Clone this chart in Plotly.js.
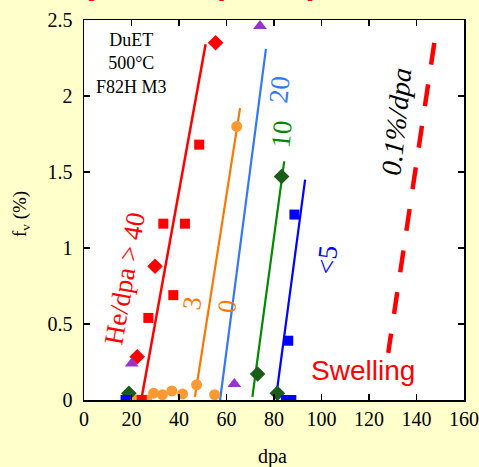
<!DOCTYPE html>
<html>
<head>
<meta charset="utf-8">
<script src="https://cdn.plot.ly/plotly-3.0.1.min.js"></script>
<style>html,body{margin:0;padding:0;background:#FFFFCC;}</style>
</head>
<body>
<div id="chart" style="width:479px;height:467px;"></div>
<script>
// x-axis ticks
const xTicks = [0, 20, 40, 60, 80, 100, 120, 140, 160];
const yTicks = [0, 0.5, 1, 1.5, 2, 2.5];

// He/dpa > 40 (red)
const redSqX = [24.3, 27.1, 33.4, 37.6, 42.5, 48.5];
const redSqY = [0, 0.54, 1.16, 0.69, 1.16, 1.68];
const redDiaX = [22.4, 29.9, 55.4];
const redDiaY = [0.285, 0.88, 2.35];
const redLineX = [24.1, 51.2];
const redLineY = [0, 2.34];

// He/dpa 3 (orange)
const orgX = [22.2, 26.4, 29.3, 33.0, 37.0, 41.5, 47.4, 55.0, 64.3];
const orgY = [0, 0, 0.045, 0.035, 0.06, 0.04, 0.10, 0.035, 1.80];
const orgLineX = [46.7, 65.7];
const orgLineY = [0.02, 1.92];

// He/dpa 20 (light blue)
const lbLineX = [57.3, 76.6];
const lbLineY = [0, 2.31];

// purple triangles
const purX = [20.1, 63.3, 74.1];
const purY = [0.24, 0.105, 2.46];

// He/dpa 10 (green)
const grnX = [18.9, 73.1, 81.4, 83.2];
const grnY = [0.044, 0.171, 0.044, 1.47];
const grnLineX = [70.9, 84.3];
const grnLineY = [0.02, 1.57];

// He/dpa < 5 (blue)
const bluX = [17.5, 85.0, 87.3, 86.0, 88.6];
const bluY = [0, 0, 0, 0.39, 1.22];
const bluLineX = [80.8, 93.1];
const bluLineY = [0.01, 1.45];

// 0.1%/dpa swelling line
const swX = [147.5, 128.1];
const swY = [2.35, 0.31];

const RED = '#FF0000', ORG = '#FF7700', ORGM = '#FF9933', LB = '#3377FF',
      GRN = '#008800', GRND = '#1A5C1A', BLU = '#0000FF', PUR = '#9933CC';

function line(x, y, color, w, dash) {
  return {x: x, y: y, type: 'scatter', mode: 'lines',
          line: {color: color, width: w, dash: dash || 'solid'}, hoverinfo: 'skip'};
}
function mk(x, y, color, sym, size) {
  return {x: x, y: y, type: 'scatter', mode: 'markers', cliponaxis: true,
          marker: {color: color, symbol: sym, size: size, line: {width: 0}}, hoverinfo: 'skip'};
}

const data = [
  line(redLineX, redLineY, RED, 2.5),
  line(orgLineX, orgLineY, ORG, 2.2),
  line(lbLineX, lbLineY, LB, 2.2),
  line(grnLineX, grnLineY, GRN, 2.2),
  line(bluLineX, bluLineY, BLU, 2.2),
  line(swX, swY, RED, 4.5, '22px,20px'),
  mk(orgX, orgY, ORGM, 'circle', 11),
  mk(redSqX, redSqY, RED, 'square', 10),
  mk(redDiaX, redDiaY, RED, 'diamond', 12),
  mk(purX, purY, PUR, 'triangle-up', 12),
  mk(grnX, grnY, GRND, 'diamond', 12),
  mk(bluX, bluY, BLU, 'square', 10)
];

const serif = 'Liberation Serif';
const sans = 'Liberation Sans';

function txt(text, x, y, color, size, angle) {
  return {text: text, x: x, y: y, xref: 'x', yref: 'y', showarrow: false,
    textangle: angle || 0, font: {family: serif, size: size, color: color},
    xanchor: 'center', yanchor: 'middle'};
}

const annotations = [
  txt('DuET<br>500°C<br>F82H M3', 19.8, 2.214, '#000000', 18, 0),
  txt('He/dpa > 40', 17.3, 0.80, RED, 27, -80),
  txt('3', 45.6, 0.635, ORG, 26, -82),
  txt('0', 60.1, 0.618, ORG, 26, -82),
  txt('20', 82.2, 2.04, LB, 27, -84),
  txt('10', 83.2, 1.75, GRN, 27, -84),
  txt('<5', 102.4, 0.92, BLU, 27, -84),
  txt('<i>0.1%/dpa</i>', 131.7, 1.83, '#000000', 28, -84),
  {text: 'Swelling', x: 117.6, y: 0.197, xref: 'x', yref: 'y', showarrow: false,
   font: {family: sans, size: 28, color: RED}, xanchor: 'center', yanchor: 'middle'},
  {text: 'f<sub>v</sub> (%)', x: -0.165, y: 0.49, xref: 'paper', yref: 'paper', showarrow: false,
   textangle: -90, font: {family: serif, size: 19, color: '#000000'}, xanchor: 'center', yanchor: 'middle'},
  {text: 'dpa', x: 0.495, y: -0.15, xref: 'paper', yref: 'paper', showarrow: false,
   font: {family: serif, size: 20, color: '#000000'}, xanchor: 'center', yanchor: 'middle'},
  {text: '<b>Steady Onset (DuET)</b>', x: -0.2237, y: 1.048, xref: 'paper', yref: 'paper', showarrow: false,
   font: {family: sans, size: 32, color: RED}, xanchor: 'left', yanchor: 'bottom', borderpad: 0}
];

const axisCommon = {
  ticks: 'inside', ticklen: 6, tickwidth: 1.2, tickcolor: '#000000',
  showline: true, linecolor: '#000000', linewidth: 1.5, mirror: 'allticks',
  showgrid: false, zeroline: false,
  tickfont: {family: serif, size: 20, color: '#000000'}
};

const layout = {
  width: 479, height: 467,
  margin: {l: 84, r: 15, t: 20, b: 67, pad: 0},
  paper_bgcolor: '#FFFFCC', plot_bgcolor: '#FFFFFF',
  showlegend: false,
  xaxis: Object.assign({}, axisCommon, {range: [0, 160], tickvals: xTicks, ticklabelstandoff: 0}),
  yaxis: Object.assign({}, axisCommon, {range: [0, 2.5], tickvals: yTicks, ticklabelstandoff: 6}),
  annotations: annotations
};

Plotly.newPlot('chart', data, layout, {staticPlot: true, displayModeBar: false});
</script>
</body>
</html>
